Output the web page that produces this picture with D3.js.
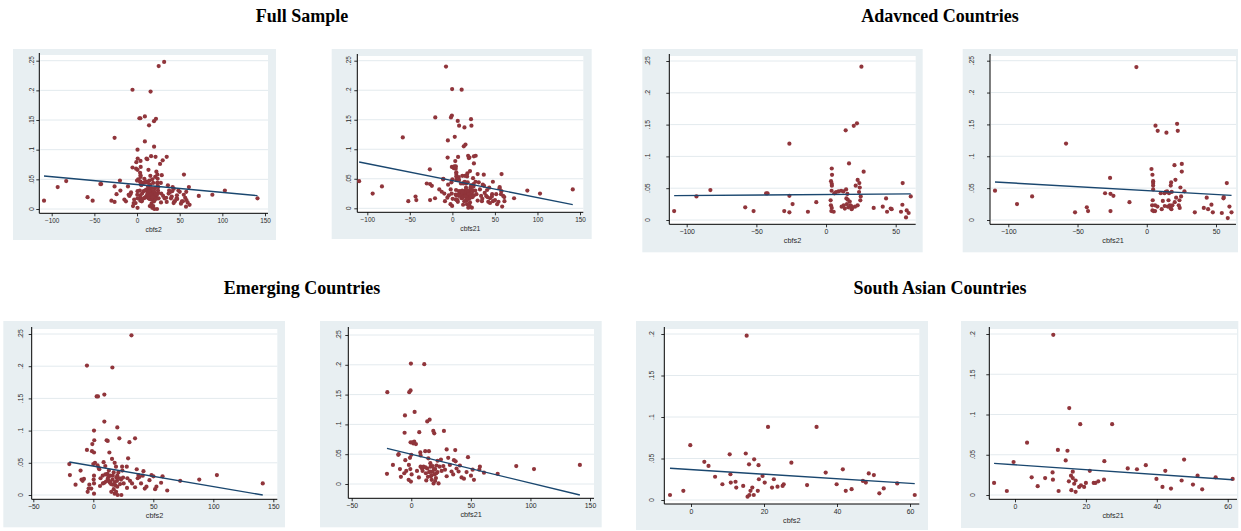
<!DOCTYPE html>
<html>
<head>
<meta charset="utf-8">
<script src="https://cdn.jsdelivr.net/npm/d3@7"></script>
<style>
  body { margin: 0; background: #fff; }
  svg { display: block; }
</style>
</head>
<body>
<svg id="chart" width="1241" height="531"></svg>
<script>
// ---- data (x = cbfs, y = dependent variable) ----
const advanced2 = [
  [-109,.014],[-93,.037],[-83,.047],[-58,.020],[-52,.014],[-43,.042],[-42,.042],[-30,.014],
  [-26.3,.120],[-26.3,.038],[-26.3,.012],[-24,.025],[-13,.013],[-7,.028],
  [4.1,.081],[4.3,.071],[3.6,.061],[4.1,.057],[4.2,.054],[4.0,.046],[3.3,.031],[3.5,.023],
  [4.1,.019],[3.8,.014],[5.5,.013],[6,.042],[7.2,.044],[8.9,.045],[10.8,.046],[12.4,.045],
  [11.2,.021],[12.7,.023],[14.4,.048],[14.1,.141],[14.6,.034],[15.3,.041],[15.6,.032],[16,.020],
  [16.5,.089],[17,.029],[17.5,.023],[18.4,.017],[19.9,.148],[20.8,.021],[21.3,.054],[22.2,.152],
  [22.7,.023],[22.7,.063],[23.9,.058],[24.2,.051],[23.7,.044],[24.9,.037],[24.6,.031],[25.4,.241],
  [27,.076],[34.2,.019],[40.7,.021],[43.1,.034],[43.8,.013],[46.4,.018],[47.1,.017],[53.8,.013],
  [54.8,.024],[55,.058],[57.9,.015],[57.4,.004],[59.3,.011],[60.8,.037],[13.5,.018],[15,.025],
  [19,.020],[18,.022]
];
const advanced21 = [
  [-109.6,.046],[-93.7,.025],[-82.8,.037],[-58.3,.120],[-51.8,.012],[-43.3,.020],[-42.4,.014],
  [-30.1,.042],[-26.5,.066],[-26.2,.041],[-26.2,.014],[-24.1,.038],[-12.5,.028],[-7.5,.240],
  [3.4,.080],[4.1,.071],[4.6,.061],[4.6,.058],[4.6,.054],[4.6,.048],[4.3,.031],[3.9,.023],
  [4.1,.015],[5,.014],[6,.023],[6,.014],[6.3,.148],[7.9,.140],[7.7,.021],[10.1,.042],
  [10.8,.017],[11.6,.030],[12.8,.042],[13,.022],[13.7,.044],[14.2,.137],[14.7,.045],[15.2,.021],
  [15.7,.031],[16.1,.042],[16.6,.023],[17.1,.019],[17.3,.054],[17.6,.059],[18,.044],[17.8,.017],
  [18.5,.023],[20,.086],[20.2,.028],[20.7,.063],[21.2,.035],[21.9,.151],[22.4,.140],[23.1,.023],
  [23.6,.031],[23.8,.019],[24.3,.051],[24.8,.037],[25.3,.088],[25.3,.076],[27.2,.045],[34.7,.012],
  [41.2,.019],[43.3,.035],[44.3,.017],[46.7,.024],[47.7,.012],[54.2,.011],[55.4,.034],[55.6,.036],
  [57.8,.058],[58.5,.003],[59.7,.021],[61.2,.012]
];
const emerging2 = [
  [-20,.048],[-19.5,.031],[-14.8,.016],[-10.6,.038],[-9.8,.024],[-8.9,.022],[-7.8,.025],[-5.3,.201],
  [-5.3,.070],[-4.7,.005],[-3.9,.010],[-3.3,.016],[-1.7,.010],[-0.8,.079],[-1.1,.068],[0.6,.066],
  [0,.048],[0.6,.100],[0.8,.085],[1.4,.050],[0.6,.030],[0.3,.024],[0.6,.018],[0.6,.002],
  [2.8,.153],[3.9,.153],[3.6,.046],[4.5,.042],[5,.040],[5.6,.014],[7.8,.030],[9.2,.156],
  [9.2,.114],[8.6,.051],[10,.045],[9.2,.019],[10.6,.021],[11.1,.085],[12,.084],[11.7,.033],
  [12.5,.028],[13.4,.066],[12.8,.022],[13.9,.019],[14.8,.017],[15.6,.056],[15.9,.198],[16.2,.030],
  [16.4,.016],[17,.009],[17.8,.050],[17.8,.002],[18.4,.015],[18.9,.044],[19.2,.027],[20,.105],
  [19.8,.022],[20.3,.000],[20.9,.035],[21.7,.088],[22.3,.017],[23.1,.024],[23.4,.000],[24,.044],
  [24.2,.038],[24.8,.027],[25.3,.018],[27.9,.044],[28.4,.026],[28.1,.011],[29,.057],[30.1,.082],
  [30.6,.022],[31.8,.248],[32.3,.018],[34.8,.088],[34.8,.012],[36.2,.040],[37,.026],[37.6,.031],
  [38.4,.028],[39.8,.018],[41.2,.030],[41.8,.037],[42.9,.010],[44.3,.013],[46.8,.023],[48.5,.031],
  [50.1,.029],[51.5,.009],[52.6,.013],[56.5,.019],[57.7,.029],[61.6,.007],[72.4,.022],[88.3,.024],
  [103,.031],[141.2,.018],
  [12,.025],[14,.020],[16,.024],[18,.020],[20,.013],[22,.026],[17,.035],[14,.030],[20,.030],
  [15,.005],[19,.005],[13,.038],[10,.032],[8,.018],[6,.026]
];
const emerging21 = [
  [-20.1,.154],[-20.4,.017],[-15.4,.032],[-10.9,.049],[-10.6,.050],[-9.5,.025],[-8.7,.012],[-5.9,.018],
  [-5.6,.086],[-5.3,.115],[-5,.040],[-4.2,.022],[-2,.032],[-2.2,.007],[-1.7,.154],[-0.6,.157],
  [-0.3,.202],[-1.1,.044],[-0.8,.025],[-0.6,.070],[-0.3,.004],[0,.049],[0.3,.016],[1.1,.070],
  [1.7,.068],[2.5,.071],[2.8,.121],[3.9,.067],[4.8,.022],[6.4,.011],[6.7,.087],[7.6,.053],
  [7.8,.048],[7.8,.029],[9,.026],[9.5,.022],[10.3,.029],[10.9,.201],[11.7,.055],[12.3,.018],
  [12.6,.006],[13.4,.105],[13.4,.026],[14.3,.043],[14.8,.055],[15.4,.108],[15.7,.021],[16.2,.029],
  [16.5,.013],[17.1,.007],[17.9,.021],[18.5,.089],[18.7,.001],[19.3,.085],[19.6,.016],[20.1,.025],
  [20.7,.010],[21.3,.031],[22.1,.039],[22.9,.001],[23.8,.029],[24.9,.041],[25.5,.022],[26.9,.030],
  [27.4,.089],[28.3,.024],[29.7,.013],[29.7,.058],[31,.044],[32.4,.032],[33.8,.021],[35.2,.016],
  [35.8,.040],[36.9,.057],[37.2,.038],[38,.026],[39.7,.021],[40.8,.031],[42.2,.011],[44.2,.009],
  [46.4,.020],[47.6,.045],[50.1,.014],[51.5,.024],[52.6,.007],[57.1,.024],[57.6,.029],[61,.019],
  [72.5,.017],[88.1,.030],[103,.025],[141.5,.032],
  [15,.020],[17,.015],[19,.025],[21,.018],[14,.012],[18,.030],[22,.020],[12,.028],[16,.035],[20,.005]
];
const southAsia2 = [
  [-5.75,.006],[-2.1,.011],[-0.2,.066],[3.65,.046],[4.8,.041],[6.6,.028],[8.6,.019],[10.6,.055],
  [10.8,.031],[10.9,.021],[12.2,.022],[12.4,.015],[14.3,.017],[15,.056],[15.25,.198],[15.5,.004],
  [16,.006],[15.9,.043],[16.3,.011],[16.8,.015],[17.2,.006],[17.3,.049],[18.3,.011],[18.5,.042],
  [18.6,.025],[19.6,.029],[20.2,.021],[21.1,.088],[22.2,.015],[22.7,.025],[23.7,.016],[25.1,.017],
  [25.4,.019],[27.5,.045],[31.8,.018],[34.4,.088],[36.9,.033],[39.9,.019],[41.6,.037],[42.4,.011],
  [44,.013],[47.1,.023],[47.9,.021],[48.7,.032],[50.1,.030],[51.6,.008],[52.8,.014],[56.5,.020],
  [61.3,.006]
];
const southAsia21 = [
  [-5.9,.015],[-2.3,.005],[-0.4,.041],[3.4,.065],[4.7,.022],[6.4,.011],[8.5,.021],[10.6,.028],
  [10.7,.019],[10.8,.199],[12.1,.056],[12.3,.005],[14.3,.043],[14.8,.055],[15.2,.017],[15.3,.108],
  [15.8,.024],[15.9,.006],[16.3,.029],[16.3,.021],[16.7,.014],[17.1,.018],[17.1,.004],[18.1,.010],
  [18.4,.088],[18.6,.012],[19.5,.010],[20,.015],[21.1,.030],[22.2,.015],[22.7,.015],[23.5,.017],
  [25.1,.019],[25.2,.042],[27.4,.088],[31.8,.033],[34.4,.032],[36.9,.037],[39.9,.020],[41.6,.010],
  [42.4,.030],[44,.008],[47,.018],[47.7,.044],[50.2,.013],[51.5,.024],[52.8,.007],[56.6,.022],
  [61.4,.020]
];
// the full sample pools the advanced and emerging groups
const full2 = advanced2.concat(emerging2);
const full21 = advanced21.concat(emerging21);

// fitted values (lfit) at the smallest and largest x of each panel
const fitFull2 = [0.0556, 0.0225];
const fitFull21 = [0.0784, 0.0062];
const fitAdvanced2 = [0.0383, 0.0410];
const fitAdvanced21 = [0.0596, 0.0387];
const fitEmerging2 = [0.0512, 0.0000];
const fitEmerging21 = [0.0598, -0.0185];
const fitSouthAsia2 = [0.0382, 0.0197];
const fitSouthAsia21 = [0.0393, 0.0190];

const groupTitles = ['Full Sample', 'Adavnced Countries', 'Emerging Countries', 'South Asian Countries'];
const xTicksFull = [-100, -50, 0, 50, 100, 150];
const xTicksAdvanced = [-100, -50, 0, 50];
const xTicksEmerging = [-50, 0, 50, 100, 150];
const xTicksSouthAsia = [0, 20, 40, 60];
const yTicks = [0, .05, .1, .15, .2, .25];
const yTicksSouthAsia = [0, .05, .1, .15, .2];

// ---- layout ----
const svg = d3.select('#chart');
const bgColor = '#e8eff2';
const markerColor = '#90353b';
const lineColor = '#1a476f';

const titlePos = [[302, 22], [940, 22], [302, 294], [940, 294]];

const panels = [
  {data: full2, fit: fitFull2, xlab: 'cbfs2', xt: xTicksFull, yt: yTicks,
   bg: [13, 49, 276, 240], p: {l: 39.3, t: 55, r: 268, b: 213.3},
   xs: [-100, 51.7, 150, 265], ys: [0, 209, .25, 60.7], yo: 7.7, fs: 6.4},
  {data: full21, fit: fitFull21, xlab: 'cbfs21', xt: xTicksFull, yt: yTicks,
   bg: [331.7, 49, 591.7, 239], p: {l: 357.3, t: 56, r: 583.3, b: 212.3},
   xs: [-100, 367.3, 150, 580], ys: [0, 208.3, .25, 60.7], yo: 9, fs: 6.4},
  {data: advanced2, fit: fitAdvanced2, xlab: 'cbfs2', xt: xTicksAdvanced, yt: yTicks,
   bg: [642.3, 49, 922.7, 252.3], p: {l: 669.3, t: 56, r: 915.7, b: 224.3},
   xs: [-100, 686.7, 50, 895.7], ys: [0, 220, .25, 61], yo: 21.6, fs: 6.9},
  {data: advanced21, fit: fitAdvanced21, xlab: 'cbfs21', xt: xTicksAdvanced, yt: yTicks,
   bg: [962.7, 49, 1238, 252.3], p: {l: 990, t: 56, r: 1236, b: 224.3},
   xs: [-100, 1008.3, 50, 1216], ys: [0, 220, .25, 60.7], yo: 19, fs: 6.9},
  {data: emerging2, fit: fitEmerging2, xlab: 'cbfs2', xt: xTicksEmerging, yt: yTicks,
   bg: [3.3, 321, 285, 527.3], p: {l: 31.7, t: 329, r: 277.3, b: 499.3},
   xs: [-50, 33.3, 150, 273.3], ys: [0, 495, .25, 334], yo: 11, fs: 6.9},
  {data: emerging21, fit: fitEmerging21, xlab: 'cbfs21', xt: xTicksEmerging, yt: yTicks,
   bg: [320, 321, 601.7, 527.3], p: {l: 348.3, t: 329, r: 594, b: 498.3},
   xs: [-50, 351.7, 150, 590], ys: [0, 484, .25, 335], yo: 10, fs: 6.9},
  {data: southAsia2, fit: fitSouthAsia2, xlab: 'cbfs2', xt: xTicksSouthAsia, yt: yTicksSouthAsia,
   bg: [636, 321, 928, 530], p: {l: 664.3, t: 329, r: 919.3, b: 504},
   xs: [0, 691, 60, 910], ys: [0, 500, .2, 334], yo: 12.6, fs: 6.9},
  {data: southAsia21, fit: fitSouthAsia21, xlab: 'cbfs21', xt: xTicksSouthAsia, yt: yTicksSouthAsia,
   bg: [961, 321, 1238.3, 528], p: {l: 989.3, t: 329, r: 1237, b: 499.3},
   xs: [0, 1015, 60, 1227.7], ys: [0, 495, .2, 334], yo: 16.7, fs: 6.9}
];

const fmt = v => v === 0 ? '0' : d3.format('.2~f')(v).replace(/^0/, '');

svg.selectAll('text.title')
  .data(groupTitles)
  .enter()
  .append('text')
  .attr('class', 'title')
  .attr('x', (d, i) => titlePos[i][0])
  .attr('y', (d, i) => titlePos[i][1])
  .attr('text-anchor', 'middle')
  .attr('font-family', 'Liberation Serif, Times New Roman, serif')
  .attr('font-weight', 'bold')
  .attr('font-size', '18px')
  .attr('fill', '#000')
  .text(d => d);

panels.forEach(pn => {
  const g = svg.append('g');
  const p = pn.p;

  const x = d3.scaleLinear().domain([pn.xs[0], pn.xs[2]]).range([pn.xs[1], pn.xs[3]]);
  const y = d3.scaleLinear().domain([pn.ys[0], pn.ys[2]]).range([pn.ys[1], pn.ys[3]]);

  g.append('rect')
    .attr('x', pn.bg[0]).attr('y', pn.bg[1])
    .attr('width', pn.bg[2] - pn.bg[0]).attr('height', pn.bg[3] - pn.bg[1])
    .attr('fill', bgColor);

  g.append('rect')
    .attr('x', p.l).attr('y', p.t)
    .attr('width', p.r - p.l).attr('height', p.b - p.t)
    .attr('fill', '#fff');

  // gridlines
  g.selectAll('.grid')
    .data(pn.yt)
    .enter()
    .append('line')
    .attr('x1', p.l + 1).attr('x2', p.r)
    .attr('y1', d => y(d)).attr('y2', d => y(d))
    .attr('stroke', '#e3eaee')
    .attr('stroke-width', 1);

  // y axis
  const yAxis = d3.axisLeft(y).tickValues(pn.yt).tickSize(3).tickFormat('');
  const ya = g.append('g').attr('transform', `translate(${p.l},0)`).call(yAxis);
  ya.select('.domain').remove();
  ya.selectAll('line').attr('stroke', '#000').attr('stroke-width', 0.8);
  g.append('line')
    .attr('x1', p.l).attr('x2', p.l).attr('y1', p.t - 2).attr('y2', p.b)
    .attr('stroke', '#000').attr('stroke-width', 1);

  g.selectAll('.ylab')
    .data(pn.yt)
    .enter()
    .append('text')
    .attr('transform', d => `translate(${p.l - pn.yo},${y(d)}) rotate(-90)`)
    .attr('text-anchor', 'middle')
    .attr('dominant-baseline', 'central')
    .attr('font-family', 'Liberation Sans, Arial, sans-serif')
    .attr('font-size', pn.fs + 'px')
    .attr('fill', '#2a2a2a')
    .text(fmt);

  // x axis
  const xAxis = d3.axisBottom(x).tickValues(pn.xt).tickSize(3).tickPadding(2).tickFormat(d3.format('d'));
  const xa = g.append('g').attr('transform', `translate(0,${p.b})`).call(xAxis);
  xa.select('.domain').remove();
  xa.selectAll('line').attr('stroke', '#000').attr('stroke-width', 0.8);
  xa.selectAll('text')
    .attr('font-family', 'Liberation Sans, Arial, sans-serif')
    .attr('font-size', pn.fs + 'px')
    .attr('fill', '#2a2a2a');
  g.append('line')
    .attr('x1', p.l).attr('x2', p.r).attr('y1', p.b).attr('y2', p.b)
    .attr('stroke', '#000').attr('stroke-width', 1);

  g.append('text')
    .attr('x', (p.l + p.r) / 2)
    .attr('y', p.b + 16)
    .attr('text-anchor', 'middle')
    .attr('dominant-baseline', 'central')
    .attr('font-family', 'Liberation Sans, Arial, sans-serif')
    .attr('font-size', (pn.fs + 0.4) + 'px')
    .attr('fill', '#2a2a2a')
    .text(pn.xlab);

  // scatter
  g.selectAll('.dot')
    .data(pn.data)
    .enter()
    .append('circle')
    .attr('cx', d => x(d[0]))
    .attr('cy', d => y(d[1]))
    .attr('r', 2.1)
    .attr('fill', markerColor);

  // fitted line
  const ext = d3.extent(pn.data, d => d[0]);
  g.append('path')
    .datum([[ext[0], pn.fit[0]], [ext[1], pn.fit[1]]])
    .attr('d', d3.line().x(d => x(d[0])).y(d => y(d[1])))
    .attr('stroke', lineColor)
    .attr('stroke-width', 1.4)
    .attr('fill', 'none');
});
</script>
</body>
</html>
